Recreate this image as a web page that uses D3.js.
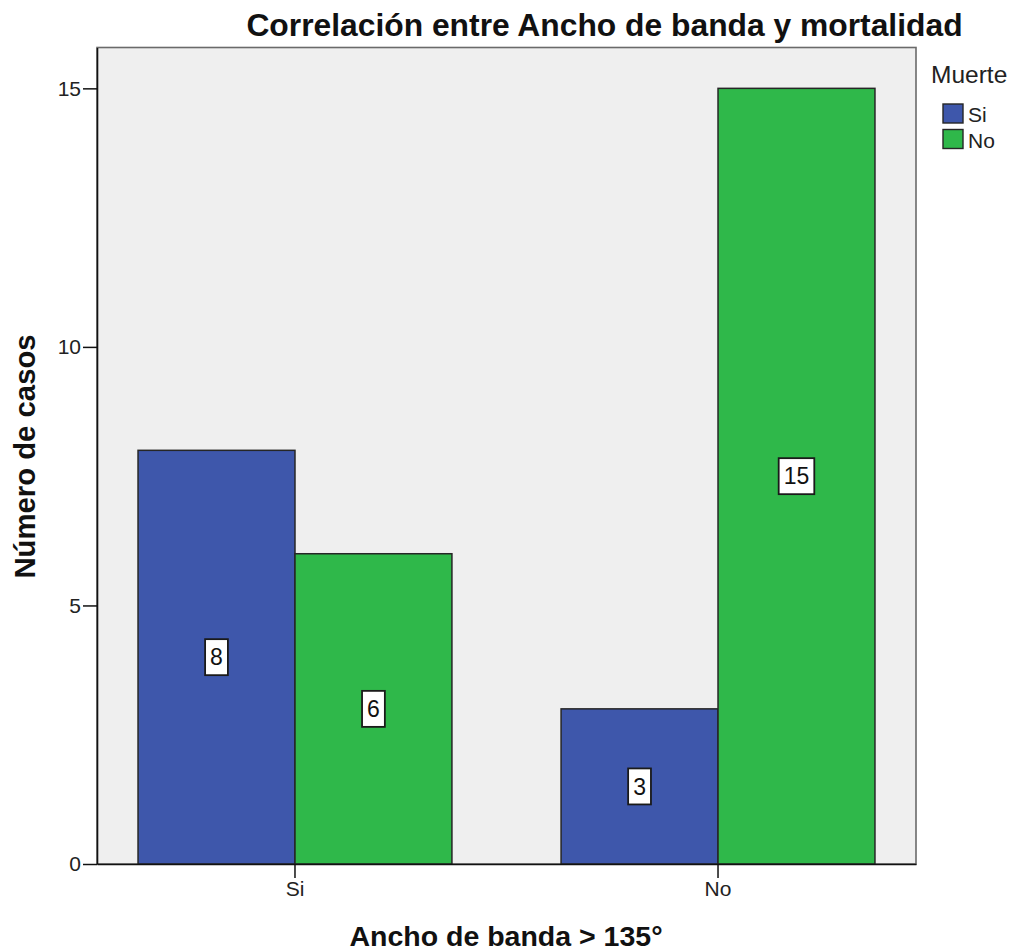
<!DOCTYPE html>
<html>
<head>
<meta charset="utf-8">
<script src="https://cdn.jsdelivr.net/npm/d3@7"></script>
<style>
  html, body { margin: 0; padding: 0; background: #ffffff; }
  svg { display: block; font-family: "Liberation Sans", Arial, sans-serif; }
</style>
</head>
<body>
<svg id="chart" width="1015" height="952"></svg>
<script>
// Categories on the x axis (Ancho de banda > 135°)
const categories = ["Si", "No"];
// Series (Muerte) and their counts per category
const seriesNames = ["Si", "No"];
const seriesMuerteSi = [8, 3];
const seriesMuerteNo = [6, 15];
const yTicks = [0, 5, 10, 15];
const colors = ["#3e57ab", "#2fb84a"];

const titleText = "Correlación entre Ancho de banda y mortalidad";
const xTitle = "Ancho de banda > 135°";
const yTitle = "Número de casos";
const legendTitle = "Muerte";

const svg = d3.select("#chart");
const plot = { left: 97, right: 916, top: 47.5, bottom: 864 };

const rows = categories.map((c, i) => ({
  category: c,
  values: [seriesMuerteSi[i], seriesMuerteNo[i]]
}));

const x0 = d3.scaleBand()
  .domain(categories)
  .range([plot.left, plot.right])
  .paddingInner(0.258)
  .paddingOuter(0.097);

const x1 = d3.scaleBand()
  .domain(d3.range(seriesNames.length))
  .range([0, x0.bandwidth()]);

const y = d3.scaleLinear()
  .domain([0, 15.79])
  .range([plot.bottom, plot.top]);

// Plot background
svg.append("rect")
  .attr("x", plot.left).attr("y", plot.top)
  .attr("width", plot.right - plot.left)
  .attr("height", plot.bottom - plot.top)
  .attr("fill", "#efefef")
  .attr("stroke", "#6a6a6a")
  .attr("stroke-width", 1.6);

// Bars
const groups = svg.append("g").selectAll("g")
  .data(rows).join("g")
  .attr("transform", d => `translate(${x0(d.category)},0)`);

groups.selectAll("rect")
  .data(d => d.values.map((v, k) => ({ v, k })))
  .join("rect")
  .attr("x", d => x1(d.k))
  .attr("y", d => y(d.v))
  .attr("width", x1.bandwidth())
  .attr("height", d => y(0) - y(d.v))
  .attr("fill", d => colors[d.k])
  .attr("stroke", "#262626")
  .attr("stroke-width", 1.5);

// Value labels in white boxes at mid-height
const labels = groups.selectAll("g.lbl")
  .data(d => d.values.map((v, k) => ({ v, k })))
  .join("g")
  .attr("class", "lbl")
  .attr("transform", d => `translate(${x1(d.k) + x1.bandwidth() / 2},${y(d.v / 2)})`);

labels.append("text")
  .attr("text-anchor", "middle")
  .attr("dy", "0.36em")
  .attr("font-size", 23)
  .attr("fill", "#111")
  .text(d => d.v)
  .each(function () {
    const bb = this.getBBox();
    d3.select(this.parentNode).insert("rect", "text")
      .attr("x", -bb.width / 2 - 5)
      .attr("y", -18)
      .attr("width", bb.width + 10)
      .attr("height", 36)
      .attr("fill", "#ffffff")
      .attr("stroke", "#1a1a1a")
      .attr("stroke-width", 1.8);
  });

// Y axis
const yAxis = svg.append("g")
  .attr("transform", `translate(${plot.left},0)`)
  .call(d3.axisLeft(y).tickValues(yTicks).tickSizeInner(14).tickSizeOuter(0).tickPadding(2).tickFormat(d3.format("d")));
yAxis.select(".domain").attr("stroke", "#111").attr("stroke-width", 1.6);
yAxis.selectAll(".tick line").attr("stroke", "#111").attr("stroke-width", 1.5);
yAxis.selectAll(".tick text").attr("font-size", 21).attr("fill", "#222")
  .attr("font-family", "Liberation Sans, Arial, sans-serif");

// X axis: ticks at category centres
const xAxis = svg.append("g")
  .attr("transform", `translate(0,${plot.bottom})`)
  .call(d3.axisBottom(x0).tickSizeInner(14).tickSizeOuter(0).tickPadding(3));
xAxis.select(".domain").attr("stroke", "#111").attr("stroke-width", 1.6);
xAxis.selectAll(".tick line").attr("stroke", "#111").attr("stroke-width", 1.5);
xAxis.selectAll(".tick text").attr("font-size", 21).attr("fill", "#222")
  .attr("font-family", "Liberation Sans, Arial, sans-serif");

// Titles
svg.append("text")
  .attr("x", 604.5).attr("y", 36)
  .attr("text-anchor", "middle")
  .attr("font-size", 31.8).attr("font-weight", "bold").attr("fill", "#111")
  .text(titleText);

svg.append("text")
  .attr("x", 506).attr("y", 946)
  .attr("text-anchor", "middle")
  .attr("font-size", 28.5).attr("font-weight", "bold").attr("fill", "#111")
  .text(xTitle);

svg.append("text")
  .attr("transform", "translate(35,456.5) rotate(-90)")
  .attr("text-anchor", "middle")
  .attr("font-size", 29.3).attr("font-weight", "bold").attr("fill", "#111")
  .text(yTitle);

// Legend
const legend = svg.append("g");
legend.append("text")
  .attr("x", 931).attr("y", 83)
  .attr("font-size", 24.5).attr("fill", "#222")
  .text(legendTitle);

const items = legend.selectAll("g.item")
  .data(seriesNames).join("g")
  .attr("class", "item")
  .attr("transform", (d, i) => `translate(943,${104 + i * 25.5})`);
items.append("rect")
  .attr("width", 20).attr("height", 19)
  .attr("fill", (d, i) => colors[i])
  .attr("stroke", "#262626").attr("stroke-width", 1.4);
items.append("text")
  .attr("x", 25).attr("y", 18)
  .attr("font-size", 21).attr("fill", "#222")
  .text(d => d);
</script>
</body>
</html>
